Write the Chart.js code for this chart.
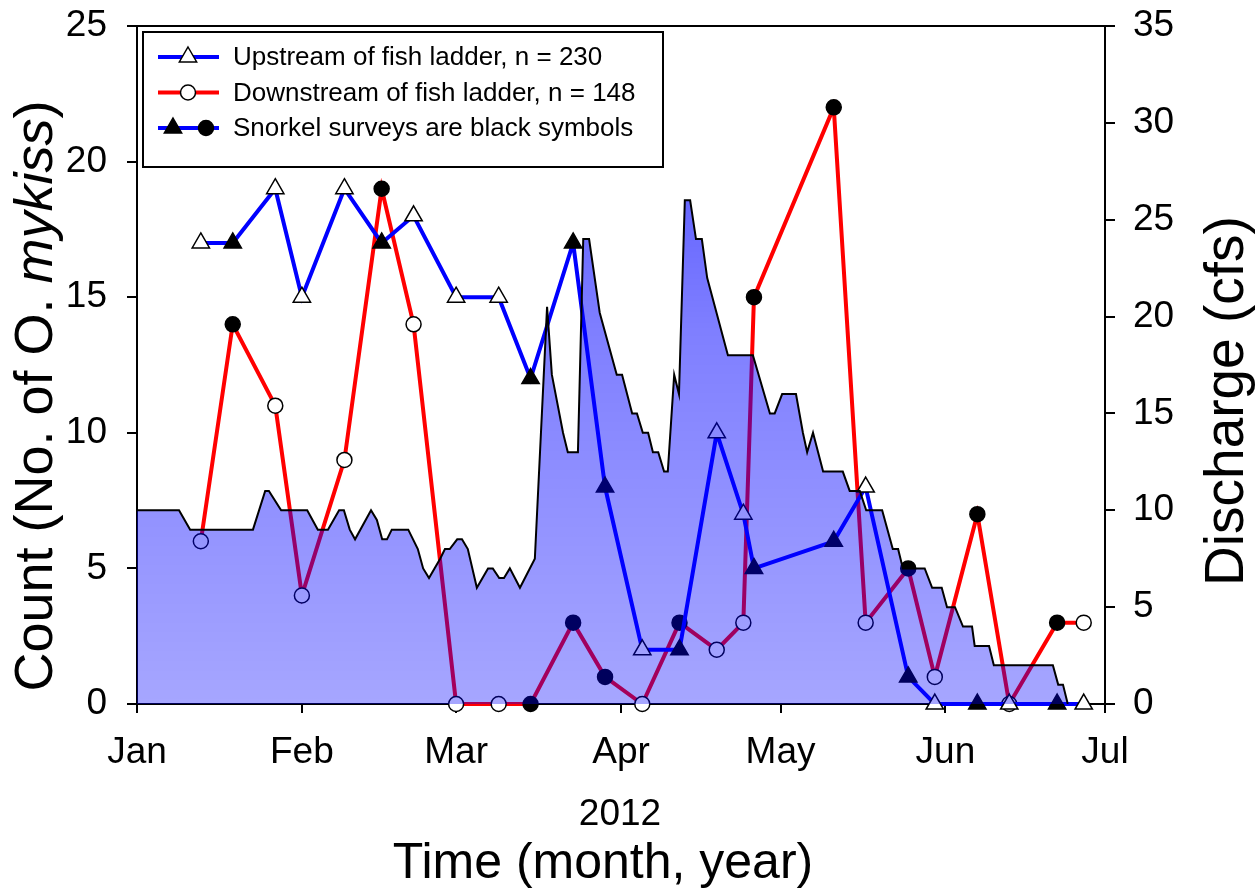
<!DOCTYPE html>
<html>
<head>
<meta charset="utf-8">
<script src="https://cdn.jsdelivr.net/npm/chart.js@4.4.1/dist/chart.umd.min.js"></script>
<style>
html,body{margin:0;padding:0;background:#fff}
#wrap{width:1257px;height:895px}
</style>
</head>
<body>
<div id="wrap"><canvas id="c" width="1257" height="895"></canvas></div>
<script>
// DATA (x = day of 2012, Jan 1 = 0)

const monthDays = [0,31,60,91,121,152,182]
const monthLabels = ['Jan','Feb','Mar','Apr','May','Jun','Jul']

const sampleDays = [12,18,26,31,39,46,52,60,68,74,82,88,95,102,109,114,116,131,137,145,150,158,164,173,178]
const snorkel    = [0,1,0,0,0,1,0,0,0,1,1,1,0,1,0,0,1,1,0,1,0,1,0,1,0]
const upstream   = [17,17,19,15,19,17,18,15,15,12,17,8,2,2,10,7,5,6,8,1,0,0,0,0,0]
const downstream = [6,14,11,4,9,19,14,0,0,0,3,1,0,3,2,3,15,22,3,5,1,7,0,3,3]

const flowDays = [0,7.9,10,21.8,24.1,24.8,27.1,32,34,35.9,38,38.9,40,41,44,45.1,46.1,47,47.9,51,52.8,53.8,54.9,57,57.9,58.8,60.2,61.1,62.2,63.9,66,66.9,68.1,69,70.1,72,74.8,77.1,78,80.1,81,82.9,83.9,85,87,90.2,91.2,93.1,94,95.1,96.1,97,98,99.1,99.8,101,101.9,103,104,105.1,106.2,107.2,111.1,115.8,119,119.9,121.3,123.9,125.2,126,127.1,129,132.7,134,135.9,137.1,140.1,142.1,143.1,144,148.1,149.5,151.3,152.3,153.8,155.3,157,157.5,160.2,161.1,172.2,173.2,174.1,175]
const flowCfs  = [10,10,9,9,11,11,10,10,9,9,10,10,9,8.5,10,9.5,8.5,8.5,9,9,8,7,6.5,7.5,8,8,8.5,8.5,8,6,7,7,6.5,6.5,7,6,7.5,20.5,17,14,13,13,24,24,20.2,17,17,15,15,14,14,13,13,12,12,17,16,26,26,24,24,22,18,18,15,15,16,16,14,13,14,12,12,11,11,10,10,8,8,7,7,6,6,5,5,4,4,3,3,2,2,1,1,0]


const FONT = 'Liberation Sans, Arial, sans-serif'

const pts = (xs,ys)=>xs.map((x,i)=>({x:x,y:ys[i]}))
const markFill = snorkel.map(s=>s ? '#000000' : '#ffffff')

const areaFill = (c)=>{
  const a = c.chart.chartArea
  if(!a) return 'rgba(0,0,255,0.4)'
  const g = c.chart.ctx.createLinearGradient(0,a.top,0,a.bottom)
  g.addColorStop(0,'rgba(0,0,255,0.72)')
  g.addColorStop(0.45,'rgba(0,0,255,0.5)')
  g.addColorStop(1,'rgba(0,0,255,0.35)')
  return g
}


// EXTRA TEXT, LEGEND, FRAME

const extras = {
  id:'extras',
  afterDraw(chart){
    const c = chart.ctx
    const a = chart.chartArea
    c.save()

    c.strokeStyle = '#000'
    c.lineWidth = 2
    c.beginPath()
    c.moveTo(a.left,a.top)
    c.lineTo(a.right,a.top)
    c.stroke()

    c.fillStyle = '#000'
    c.textBaseline = 'middle'

    // left title, species name in italics
    const parts = [['Count (No. of O. ',''],['mykiss','italic '],[')','']]
    let total = 0
    parts.forEach(p=>{ c.font = p[1]+'54px '+FONT; total += c.measureText(p[0]).width })
    c.save()
    c.translate(37,396)
    c.rotate(-Math.PI/2)
    let px = -total/2
    c.textAlign = 'left'
    parts.forEach(p=>{ c.font = p[1]+'54px '+FONT; c.fillText(p[0],px,0); px += c.measureText(p[0]).width })
    c.restore()

    // right title
    c.save()
    c.translate(1228,401)
    c.rotate(-Math.PI/2)
    c.textAlign = 'center'
    c.font = '55px '+FONT
    c.fillText('Discharge (cfs)',0,0)
    c.restore()

    // bottom titles
    c.textAlign = 'center'
    c.font = '37px '+FONT
    c.fillText('2012',620,815)
    c.font = '50px '+FONT
    c.fillText('Time (month, year)',603,864)

    // legend
    c.fillStyle = '#fff'
    c.fillRect(143,32,520,135)
    c.strokeStyle = '#000'
    c.lineWidth = 2
    c.strokeRect(143,32,520,135)
    const rows = [
      ['Upstream of fish ladder, n = 230','#0000ff',[['triangle','#fff',188]]],
      ['Downstream of fish ladder, n = 148','#ff0000',[['circle','#fff',188]]],
      ['Snorkel surveys are black symbols','#0000ff',[['triangle','#000',173],['circle','#000',206]]]
    ]
    rows.forEach((r,i)=>{
      const y = 57 + i*35.5
      c.strokeStyle = r[1]
      c.lineWidth = 4
      c.beginPath(); c.moveTo(158,y); c.lineTo(219,y); c.stroke()
      r[2].forEach(m=>{
        c.fillStyle = m[1]; c.strokeStyle = '#000'; c.lineWidth = 1.5
        c.beginPath()
        if(m[0]=='circle'){ c.arc(m[2],y,7.5,0,Math.PI*2) }
        else { c.moveTo(m[2],y-10); c.lineTo(m[2]+8.66,y+5); c.lineTo(m[2]-8.66,y+5); c.closePath() }
        c.fill(); c.stroke()
      })
      c.fillStyle = '#000'
      c.textAlign = 'left'
      c.font = '26px '+FONT
      c.fillText(r[0],233,y+1)
    })

    c.restore()
  }
}


// CHART

const axisCommon = {
  border:{display:true,color:'#000',width:2},
  grid:{drawOnChartArea:false,drawTicks:true,tickLength:10,color:'#000',lineWidth:2},
  ticks:{color:'#000',font:{family:FONT,size:37}}
}

const noPad = s=>{ s.paddingTop = 0; s.paddingBottom = 0 }

new Chart(document.getElementById('c'),{
  type:'line',
  data:{
    datasets:[
      {
        label:'Discharge',
        data:pts(flowDays,flowCfs),
        yAxisID:'y2',
        borderColor:'#000',
        borderWidth:2,
        pointRadius:0,
        fill:'origin',
        backgroundColor:areaFill,
        tension:0,
        order:0
      },
      {
        label:'Upstream of fish ladder, n = 230',
        data:pts(sampleDays,upstream),
        yAxisID:'y',
        borderColor:'#0000ff',
        borderWidth:4,
        pointStyle:'triangle',
        pointRadius:10,
        pointBackgroundColor:markFill,
        pointBorderColor:'#000',
        pointBorderWidth:1.5,
        fill:false,
        clip:false,
        order:1
      },
      {
        label:'Downstream of fish ladder, n = 148',
        data:pts(sampleDays,downstream),
        yAxisID:'y',
        borderColor:'#ff0000',
        borderWidth:4,
        pointStyle:'circle',
        pointRadius:7.5,
        pointBackgroundColor:markFill,
        pointBorderColor:'#000',
        pointBorderWidth:1.5,
        fill:false,
        clip:false,
        order:2
      }
    ]
  },
  options:{
    responsive:false,
    animation:false,
    layout:{padding:{top:26,left:0,right:0,bottom:0}},
    plugins:{legend:{display:false},tooltip:{enabled:false}},
    scales:{
      x:{
        type:'linear',
        position:'bottom',
        min:0,
        max:182,
        border:axisCommon.border,
        grid:{...axisCommon.grid,tickLength:9},
        afterBuildTicks:s=>{ s.ticks = monthDays.map(v=>({value:v})) },
        afterFit:s=>{ s.height = 191; s.paddingLeft = 0; s.paddingRight = 0 },
        ticks:{...axisCommon.ticks,padding:18,maxRotation:0,autoSkip:false,
          callback:v=>monthLabels[monthDays.indexOf(v)]}
      },
      y:{
        type:'linear',
        position:'left',
        min:0,
        max:25,
        border:axisCommon.border,
        grid:axisCommon.grid,
        afterFit:s=>{ s.width = 137; noPad(s) },
        ticks:{...axisCommon.ticks,stepSize:5,padding:20}
      },
      y2:{
        type:'linear',
        position:'right',
        min:0,
        max:35,
        border:axisCommon.border,
        grid:axisCommon.grid,
        afterFit:s=>{ s.width = 152; noPad(s) },
        ticks:{...axisCommon.ticks,stepSize:5,padding:18}
      }
    }
  },
  plugins:[extras]
})
</script>
</body>
</html>
